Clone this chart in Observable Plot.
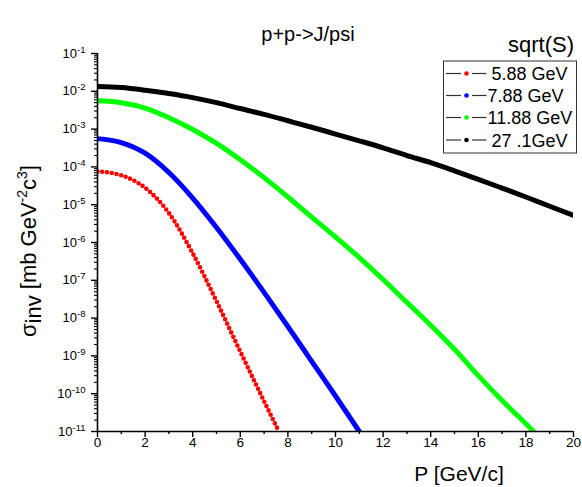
<!DOCTYPE html>
<html>
<head>
<meta charset="utf-8">
<script src="https://cdn.jsdelivr.net/npm/d3@7"></script>
<script src="https://cdn.jsdelivr.net/npm/@observablehq/plot@0.6"></script>
<style>
  body { margin: 0; background: #fff; }
  #chart { width: 582px; height: 487px; }
  svg { font-family: "Liberation Sans", Arial, sans-serif; }
</style>
</head>
<body>
<div id="chart"></div>
<script>
// ---- data ----
const P_red   = [0, 1, 2, 3, 4, 5, 6, 7, 7.62];
const sig_red = [7.6e-5, 6.0e-5, 2.8e-5, 6.0e-6, 5.2e-7, 2.8e-8, 1.3e-9, 6.3e-11, 1.0e-11];

const P_blue   = [0, 1, 2, 3, 4, 5, 6, 7, 8, 9, 10, 11];
const sig_blue = [5.6e-4, 4.4e-4, 2.3e-4, 7.1e-5, 1.5e-5, 2.5e-6, 3.6e-7, 4.8e-8, 6.0e-9, 7.2e-10, 8.7e-11, 1.0e-11];

const P_green   = [0, 1, 2, 3, 4, 5, 6, 7, 8, 9, 10, 11, 12, 13, 14, 15, 16, 17, 18, 18.33];
const sig_green = [5.6e-3, 5.0e-3, 3.6e-3, 2.0e-3, 9.8e-4, 4.2e-4, 1.55e-4, 5.2e-5, 1.6e-5, 4.7e-6,
                   1.4e-6, 4.0e-7, 1.05e-7, 2.6e-8, 6.5e-9, 1.5e-9, 3.0e-10, 6.6e-11, 1.6e-11, 1.0e-11];

const P_black   = [0, 1, 2, 3, 4, 5, 6, 7, 8, 9, 10, 11, 12, 13, 14, 15, 16, 17, 18, 19, 20];
const sig_black = [1.34e-2, 1.26e-2, 1.07e-2, 8.7e-3, 6.8e-3, 5.0e-3, 3.5e-3, 2.45e-3, 1.66e-3, 1.12e-3,
                   7.4e-4, 4.9e-4, 3.2e-4, 2.0e-4, 1.3e-4, 7.9e-5, 4.7e-5, 2.75e-5, 1.6e-5, 9.1e-6, 5.2e-6];

const seriesLabels = ["5.88 GeV", "7.88 GeV", "11.88 GeV", "27 .1GeV"];
const seriesColors = ["#ff0000", "#0000ff", "#00ff00", "#000000"];
const legendTitle = "sqrt(S)";
const chartTitle = "p+p->J/psi";
const xLabel = "P [GeV/c]";

const xTicks = [0, 2, 4, 6, 8, 10, 12, 14, 16, 18, 20];
const xMinorTicks = [1, 3, 5, 7, 9, 11, 13, 15, 17, 19];
const yExponents = [-1, -2, -3, -4, -5, -6, -7, -8, -9, -10, -11];

// ---- build tables ----
const series = [
  {P: P_red, s: sig_red},
  {P: P_blue, s: sig_blue},
  {P: P_green, s: sig_green},
  {P: P_black, s: sig_black}
].map((d, i) => d.P.map((p, j) => ({P: p, sigma: d.s[j], k: seriesLabels[i]})));

const yTicks = yExponents.map(e => Math.pow(10, e));
const yMinor = [];
for (const e of yExponents.slice(1)) for (let m = 2; m <= 9; m++) yMinor.push(m * Math.pow(10, e));

const lineMark = (data, i) => Plot.line(data, {
  x: "P", y: "sigma", stroke: seriesColors[i], strokeWidth: 5,
  curve: "monotone-x", clip: true, strokeLinecap: "round",
  ...(i === 0 ? {strokeDasharray: "0 4.8", strokeWidth: 4.6} : {})
});

const svg = Plot.plot({
  width: 582, height: 487,
  marginLeft: 97, marginRight: 9, marginTop: 53, marginBottom: 56,
  style: {background: "white", color: "black", fontFamily: "'Liberation Sans', Arial, sans-serif"},
  x: {domain: [0, 20]},
  y: {type: "log", domain: [1e-11, 1e-1]},
  marks: [
    ...series.map((d, i) => lineMark(d, i)),
    Plot.axisX({ticks: xMinorTicks, tickSize: 3, tickFormat: () => "", strokeWidth: 1.4, label: null}),
    Plot.axisX({ticks: xTicks, tickSize: 6, tickPadding: 0, fontSize: 13.5, strokeWidth: 1.4, label: null}),
    Plot.axisY({ticks: yMinor, tickSize: 3, tickFormat: () => "", strokeWidth: 1.1, label: null}),
    Plot.axisY({ticks: yTicks, tickSize: 6, tickPadding: 6, fontSize: 13, strokeWidth: 1.4, label: null,
                tickFormat: d => "10^" + Math.round(Math.log10(d))}),
    Plot.ruleX([0], {strokeWidth: 1.6}),
    Plot.ruleY([1e-11], {strokeWidth: 1.6})
  ]
});

document.getElementById("chart").appendChild(svg);
const s = d3.select(svg);

// superscripts on y tick labels
s.selectAll('g[aria-label="y-axis tick label"] text').each(function() {
  const t = this.textContent;
  if (!t.includes("^")) return;
  const [base, exp] = t.split("^");
  const el = d3.select(this);
  el.text(null);
  el.append("tspan").text(base);
  el.append("tspan").attr("dy", "-5").attr("font-size", 9.5).text(exp);
});

// title
s.append("text").attr("x", 308).attr("y", 41).attr("text-anchor", "middle")
  .attr("font-size", 20).attr("fill", "black").text(chartTitle);

// x label
s.append("text").attr("x", 459).attr("y", 481).attr("text-anchor", "middle")
  .attr("font-size", 21).attr("fill", "black").text(xLabel);

// y label
const yl = s.append("text").attr("transform", "translate(36,251) rotate(-90)")
  .attr("text-anchor", "middle").attr("font-size", 22).attr("fill", "black");
yl.append("tspan").text("σ");
yl.append("tspan").attr("dy", 5).text("inv");
yl.append("tspan").attr("dy", -5).text(" [mb GeV");
yl.append("tspan").attr("dy", -9).attr("font-size", 14).text("-2");
yl.append("tspan").attr("dy", 9).text("c");
yl.append("tspan").attr("dy", -9).attr("font-size", 14).text("3");
yl.append("tspan").attr("dy", 9).text("]");

// legend
s.append("text").attr("x", 574).attr("y", 51.5).attr("text-anchor", "end")
  .attr("font-size", 22).attr("fill", "black").text(legendTitle);
s.append("rect").attr("x", 443.5).attr("y", 61).attr("width", 133).attr("height", 92)
  .attr("fill", "white").attr("stroke", "#333").attr("stroke-width", 1);
const baselines = [80, 102, 124, 146.5];
const textX = [491.5, 487.5, 487.5, 491.5];
seriesLabels.forEach((lab, i) => {
  const cy = baselines[i] - 6.5;
  s.append("line").attr("x1", 446).attr("x2", 461).attr("y1", cy).attr("y2", cy)
    .attr("stroke", "#333").attr("stroke-width", 1.2);
  s.append("line").attr("x1", 472).attr("x2", 486.5).attr("y1", cy).attr("y2", cy)
    .attr("stroke", "#333").attr("stroke-width", 1.2);
  s.append("circle").attr("cx", 466.5).attr("cy", cy).attr("r", 2.3).attr("fill", seriesColors[i]);
  s.append("text").attr("x", textX[i]).attr("y", baselines[i]).attr("text-anchor", "start")
    .attr("font-size", 18).attr("fill", "black").text(lab);
});
</script>
</body>
</html>
